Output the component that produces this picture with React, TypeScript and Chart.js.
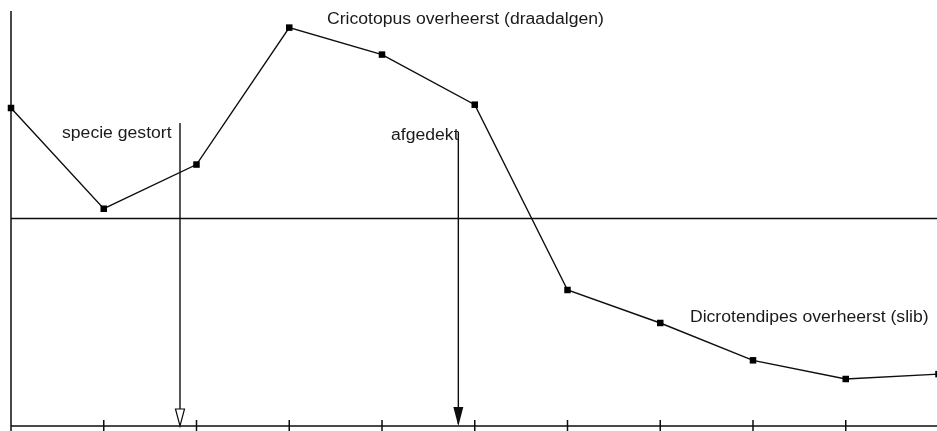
import { useEffect, useRef } from "react";
import { Chart, registerables } from "chart.js";

Chart.register(...registerables);

// sampling moments (equally spaced)
const samples = [0, 1, 2, 3, 4, 5, 6, 7, 8, 9, 10];
// index values (zero = horizontal reference line)
const values = [1.065, 0.094, 0.52, 1.84, 1.58, 1.097, -0.689, -1.007, -1.367, -1.547, -1.5];
const yMin = -2;
const yMax = 2;

// annotation texts (positions in data units: left x, baseline y)
const labelTexts = [
  "Cricotopus overheerst (draadalgen)",
  "specie gestort",
  "afgedekt",
  "Dicrotendipes overheerst (slib)",
];
const labelX = [3.407, 0.55, 4.097, 7.32];
const labelY = [1.875, 0.776, 0.757, -0.998];

// event arrows
const eventX = [1.822, 4.823];
const eventTop = [0.92, 0.834];
const eventHeadFilled = [false, true];

const INK = "#0d0d0d";

const overlayPlugin = {
  id: "overlay",
  beforeDatasetsDraw(chart: any) {
    const { ctx, chartArea, scales } = chart;
    const xs = scales.x;
    const ys = scales.y;
    const h = chart.height;
    ctx.save();
    ctx.strokeStyle = INK;
    ctx.lineWidth = 1.5;
    // left axis
    const x0 = xs.getPixelForValue(samples[0]);
    const xEnd = xs.getPixelForValue(samples[samples.length - 1]);
    ctx.beginPath();
    ctx.moveTo(x0, chartArea.top);
    ctx.lineTo(x0, h);
    ctx.stroke();
    // bottom axis
    const yb = ys.getPixelForValue(yMin);
    ctx.beginPath();
    ctx.moveTo(x0, yb);
    ctx.lineTo(xEnd, yb);
    ctx.stroke();
    // ticks
    for (const s of samples.slice(1)) {
      const px = xs.getPixelForValue(s);
      ctx.beginPath();
      ctx.moveTo(px, yb - 6);
      ctx.lineTo(px, h);
      ctx.stroke();
    }
    // zero line
    const yz = ys.getPixelForValue(0);
    ctx.beginPath();
    ctx.moveTo(x0, yz);
    ctx.lineTo(xEnd, yz);
    ctx.stroke();
    // event arrows
    eventX.forEach((ex, i) => {
      const px = xs.getPixelForValue(ex);
      const top = ys.getPixelForValue(eventTop[i]);
      const headLen = eventHeadFilled[i] ? 19 : 17;
      const headHalf = eventHeadFilled[i] ? 5 : 4.5;
      ctx.lineWidth = 1.4;
      ctx.beginPath();
      ctx.moveTo(px, top);
      ctx.lineTo(px, yb - (eventHeadFilled[i] ? 2 : headLen));
      ctx.stroke();
      ctx.beginPath();
      ctx.moveTo(px - headHalf, yb - headLen);
      ctx.lineTo(px + headHalf, yb - headLen);
      ctx.lineTo(px, yb);
      ctx.closePath();
      if (eventHeadFilled[i]) {
        ctx.fillStyle = INK;
        ctx.fill();
      } else {
        ctx.fillStyle = "#ffffff";
        ctx.fill();
        ctx.lineWidth = 1.2;
        ctx.stroke();
      }
    });
    ctx.restore();
  },
  afterDraw(chart: any) {
    const { ctx, scales } = chart;
    ctx.save();
    ctx.fillStyle = "#1a1a1a";
    ctx.font = "16px 'Liberation Sans', Arial, sans-serif";
    ctx.textBaseline = "alphabetic";
    ctx.textAlign = "left";
    labelTexts.forEach((t, i) => {
      const px = scales.x.getPixelForValue(labelX[i]);
      const py = scales.y.getPixelForValue(labelY[i]);
      ctx.save();
      ctx.translate(px, py);
      ctx.scale(1.1, 1);
      ctx.fillText(t, 0, 0);
      ctx.restore();
    });
    ctx.restore();
  },
};

export default function App() {
  const ref = useRef<HTMLCanvasElement | null>(null);
  useEffect(() => {
    document.body.style.margin = "0";
    const canvas = ref.current;
    if (!canvas) return;
    const chart = new Chart(canvas, {
      type: "line",
      data: {
        datasets: [
          {
            data: samples.map((s, i) => ({ x: s, y: values[i] })),
            borderColor: INK,
            borderWidth: 1.4,
            backgroundColor: INK,
            pointStyle: "rect",
            pointRadius: 4.6,
            pointBorderWidth: 0,
            pointBackgroundColor: "#000000",
            tension: 0,
            clip: false as any,
          },
        ],
      },
      options: {
        responsive: false,
        animation: false,
        devicePixelRatio: 1,
        layout: { autoPadding: false, padding: { left: 11, right: 0.5, top: 11, bottom: 5 } },
        plugins: {
          legend: { display: false },
          tooltip: { enabled: false },
          title: { display: false },
        },
        events: [],
        scales: {
          x: { type: "linear", min: samples[0], max: samples[samples.length - 1], display: false },
          y: { type: "linear", min: yMin, max: yMax, display: false },
        },
      } as any,
      plugins: [overlayPlugin],
    });
    return () => chart.destroy();
  }, []);
  return (
    <div style={{ width: 937, height: 431, background: "#ffffff", overflow: "hidden" }}>
      <canvas ref={ref} width={939} height={431} style={{ display: "block" }} />
    </div>
  );
}
